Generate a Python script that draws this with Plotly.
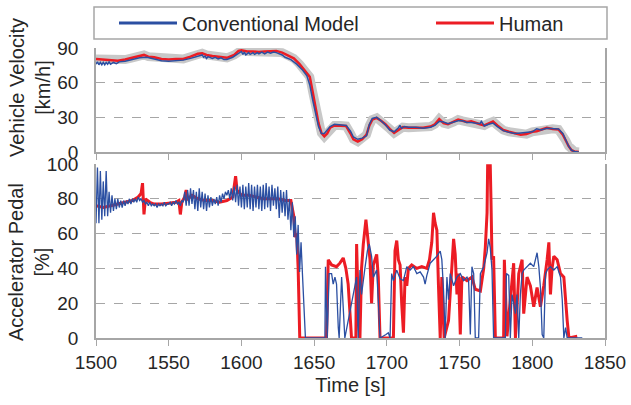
import plotly.graph_objects as go
from plotly.subplots import make_subplots

# ---------------- data ----------------
t_vel_human = [1500,1505,1510,1515,1520,1525,1530,1533,1536,1540,1545,1550,1555,1560,1565,1570,1573,1576,1580,1585,
               1590,1595,1598,1600,1604,1608,1612,1616,1620,1624,1628,1632,1636,1640,1644,1647,1649,1651,1653,1655,
               1657,1659,1661,1664,1668,1672,1675,1677,1680,1683,1686,1688,1690,1693,1696,1699,1702,1705,1708,1711,
               1715,1720,1725,1730,1733,1736,1739,1742,1746,1749,1752,1755,1758,1761,1764,1767,1770,1773,1776,1780,
               1784,1788,1792,1796,1800,1803,1806,1810,1814,1818,1821,1823,1825,1827,1829,1832]
vel_human = [80.5,80,79.5,79,80,81.5,83,84,82.5,82,80.5,80,80.5,80.5,82.5,85,85.5,84,83,82,
             81.5,84,87.5,88,87,87,86.5,87,87.5,87.5,86,83.5,81,76,70,65,52,37,25,16.5,
             13.5,16,21,23,23,22.5,16,11,9,11,15,23,28,29.5,27,24,20,16.5,19,21.5,
             21,21,21,22,24,28.5,25,24,26,28,27,26,26.5,25,24,23,25,26.5,23,19,
             17.5,16.5,15,15.5,17.5,18,19.5,21,20,19.5,15,10,5,1.5,0.5,0]

t_vel_model = [1500,1501,1502,1503,1504,1505,1506,1507,1508,1509,1510,1512,1514,1516,1520,1525,1530,1535,1540,1545,
               1550,1555,1560,1565,1570,1573,1574,1575,1576,1577,1580,1582,1584,1586,1588,1590,1594,1598,1600,1601,
               1602,1603,1605,1606,1608,1609,1611,1612,1614,1616,1618,1620,1622,1624,1626,1628,1630,1634,1638,1642,
               1645,1647,1649,1651,1653,1655,1657,1659,1661,1664,1668,1672,1675,1677,1680,1683,1686,1688,1690,1693,
               1696,1699,1702,1705,1708,1709,1710,1712,1715,1720,1725,1730,1733,1736,1739,1742,1746,1749,1752,1755,
               1758,1761,1764,1765,1767,1770,1773,1776,1780,1784,1788,1792,1796,1800,1803,1806,1810,1814,1818,1821,
               1823,1825,1827,1829,1832]
vel_model = [76,78,75.5,77.5,75.5,77.5,75.5,77.5,76,78,76,77.5,76.5,78,78.5,80,81.5,82,80.5,79,
             78.5,79,79.5,81,83,84,82,83,81,82.5,81,82,80.5,81.5,80,80,82,85.5,87,84.5,
             86.5,84,86,84.5,86,84.5,86,85,86.5,85,86.5,85.5,86.5,86,85,84,82,80,76,71,
             66,58,45,32,22,16,16,19,22,24,23.5,23,18,13,11,12,14,24,29,30,
             27,23.5,19,17.5,21,23,20.5,22,21.5,21.5,20.5,21.5,23,26.5,26,24.5,26,27,27,25.5,
             25.5,25,24.5,26.5,22.5,24,25,22,18.5,17,16,16.5,17,17.5,20,19,20.5,20.5,20,16,
             11,5,1.5,0.5,0]

t_ped_human = [1500,1505,1510,1515,1520,1525,1529,1531,1532,1533,1534,1537,1540,1545,1550,1555,1557,1558,1559,1561,
               1562,1563,1566,1570,1575,1580,1585,1590,1594,1595,1596,1597,1600,1605,1610,1615,1620,1625,1630,1634,
               1636,1637,1638,1639,1640.1,1658.5,1659.7,1662,1665.4,1667.7,1670,1671.8,1673.4,1675.7,1678.7,1679.2,1680.6,1681.5,1682.6,1683.8,
               1685.6,1686.7,1688.4,1689.5,1690.7,1693,1694.1,1695.3,1704.5,1705.6,1706.8,1707.9,1709.1,1710.2,1711.4,1712.5,1713.7,1714.8,1717.1,1720.6,
               1724,1727.5,1729.3,1730.9,1732.1,1733.2,1734.4,1735.5,1736.7,1737.8,1739.4,1742.4,1744.7,1745.9,1747,1748.2,1749.3,1750.5,1751.6,1755.1,
               1758.5,1760.8,1764.3,1766.6,1767.7,1768.9,1769.3,1771.1,1771.6,1772.3,1773.4,1774.6,1780.3,1780.8,1782.6,1784.9,1787.2,1788.4,1790.7,1793,
               1794.1,1796.4,1798.7,1801,1803.3,1805.6,1807.9,1810.2,1811.4,1812.5,1813.6,1814.8,1817.1,1819.4,1821.7,1824,1825.2,1830.9]
ped_human = [76,75,76,77,78,79,81,83,89,71,80,78,77,77,77.5,78,79,71,78,81,
             85,80,82,80,79,79,78,79,81,88,93,85,82,82,81,80,80,80,79,79,
             70,58,60,40,0,0,45,42,41,43,46,40,31,0,0,54,10,0,40,54,
             68,60,45,20,42,48,35,0,0,50,56,45,42,20,3,35,30,40,42,40,
             41,40,45,55,72,66,62,30,0,35,0,10,40,57,48,25,37,2,35,33,
             35,28,27,40,52,72,99,99,79,45,47,0,0,45,1,20,43,0,37,45,
             14,35,30,18,29,18,30,45,55,25,40,47,45,37,35,10,0,1]

t_ped_model = list(range(1500, 1645)) + [
               1657.4,1657.8,1659,1660.3,1662,1663.1,1664.3,1665.4,1666.6,1667.2,1668.9,1671.1,1679.2,1680.3,1681.5,1682.6,1684.9,1686.6,1687.9,1689.5,
               1690.7,1693,1694.1,1695.3,1699.4,1701,1702.2,1703.3,1704.5,1706.8,1709.1,1711.4,1713.7,1716,1718.3,1720.6,1722.9,1725.2,1726.3,1727.5,
               1729.8,1732.1,1734.4,1736.7,1737.8,1739,1740.1,1741.3,1742.4,1743.6,1745.9,1748.2,1750.5,1752.8,1755.1,1756.2,1757.4,1758.5,1759.7,1760.8,
               1763.1,1764.3,1766.6,1768.9,1770,1771.1,1772.3,1773.4,1781.5,1782.2,1783.8,1784.9,1786.1,1787.2,1788.4,1789.5,1790.7,1791.8,1793,1794.1,
               1796.4,1798.7,1801,1803.3,1804.5,1805.6,1806.8,1807.9,1809.1,1810.2,1812.5,1814.8,1817.1,1819.4,1820.6,1821.7,1822.9,1824,1834.4]
ped_model = [66,98,66,96,68,90,70,96,70,84,72,82,73,80,74,80,75,79,75,79,
             76,79,77,80,77,80,78,80,78,81,79,80,78,79,77,78,76,78,76,77,
             76,77,75,77,76,77,76,78,76,77,77,78,76,78,77,79,77,78,76,79,
             78,84,76,85,76,86,77,85,74,84,73,86,75,84,74,83,73,82,75,81,
             76,80,77,81,76,82,78,83,80,84,82,85,80,86,79,87,78,88,76,87,
             75,88,74,87,75,89,74,88,73,87,75,88,74,87,73,88,74,89,75,87,
             73,88,76,86,74,87,69,85,72,84,70,85,68,80,62,78,58,70,48,65,
             38,55,36,18,0] + [
             0,41,0,37,37,31,35,31,6,0,35,0,35,0,39,25,40,50,54,47,
             35,39,22,0,2,3,0,37,33,39,34,33,41,39,41,37,38,35,31,36,
             43,45,47,50,45,27,0,35,22,37,30,35,37,33,35,33,2,41,37,0,
             0,37,41,49,57,52,39,0,0,37,36,0,25,20,14,25,0,25,37,39,
             41,43,41,49,41,29,2,0,37,39,41,39,41,35,22,0,6,0,0]

x_ticks = [1500, 1550, 1600, 1650, 1700, 1750, 1800, 1850]
vel_ticks = [0, 30, 60, 90]
ped_ticks = [0, 20, 40, 60, 80, 100]

# ---------------- style ----------------
BLUE = "#2b4fa2"
RED = "#ec1c24"
GRAY_BAND = "#c8c8c8"
AXIS = "#a6a6a6"
GRID = "#a6a6a6"
FONT = "Liberation Sans, Arial, sans-serif"
TXT = "#262626"
FS = 20
TFS = 19

W, H = 631, 405
L, R = 96, 605
TOP, BOT = 48, 338
ph = BOT - TOP
pw = R - L
def py(px):
    return (BOT - px) / ph
def pxp(px):
    return (px - L) / pw

fig = make_subplots(rows=2, cols=1, shared_xaxes=False, vertical_spacing=0.05)

# velocity
fig.add_trace(go.Scatter(x=t_vel_human, y=vel_human, mode="lines", showlegend=False,
                         line=dict(color=GRAY_BAND, width=9), hoverinfo="skip"), row=1, col=1)
fig.add_trace(go.Scatter(x=t_vel_human, y=vel_human, mode="lines", name="Human", showlegend=False,
                         line=dict(color=RED, width=2.5)), row=1, col=1)
fig.add_trace(go.Scatter(x=t_vel_model, y=vel_model, mode="lines", name="Conventional Model", showlegend=False,
                         line=dict(color=BLUE, width=1.5)), row=1, col=1)

# pedal
fig.add_trace(go.Scatter(x=t_ped_human, y=ped_human, mode="lines", name="Human", showlegend=False,
                         line=dict(color=RED, width=3)), row=2, col=1)
fig.add_trace(go.Scatter(x=t_ped_model, y=ped_model, mode="lines", name="Conventional Model", showlegend=False,
                         line=dict(color=BLUE, width=1.3)), row=2, col=1)

# legend entries (two legends so each entry sits where the reference puts it)
fig.add_trace(go.Scatter(x=[None], y=[None], mode="lines", name="Conventional Model", legend="legend",
                         line=dict(color=BLUE, width=3)), row=1, col=1)
fig.add_trace(go.Scatter(x=[None], y=[None], mode="lines", name="Human", legend="legend2",
                         line=dict(color=RED, width=3)), row=1, col=1)

leg_common = dict(orientation="h", xanchor="left", y=py(23), yanchor="middle",
                  font=dict(size=FS, color=TXT), bgcolor="rgba(0,0,0,0)", borderwidth=0,
                  itemwidth=58)
fig.update_layout(
    width=W, height=H,
    margin=dict(l=L, r=W - R, t=TOP, b=H - BOT, autoexpand=False),
    paper_bgcolor="white", plot_bgcolor="white",
    font=dict(family=FONT, size=FS, color=TXT),
    legend=dict(x=pxp(114), **leg_common),
    legend2=dict(x=pxp(431), **leg_common),
    shapes=[dict(type="rect", xref="paper", yref="paper", x0=pxp(94), x1=pxp(607), y0=py(39), y1=py(7),
                 line=dict(color=AXIS, width=1.5), fillcolor="rgba(0,0,0,0)")],
    annotations=[
        dict(text="Vehicle Velocity<br>[km/h]", textangle=-90, xref="paper", yref="paper",
             x=pxp(30), y=py(88), xanchor="center", yanchor="middle", showarrow=False,
             font=dict(size=FS, color=TXT)),
        dict(text="Accelerator Pedal<br>[%]", textangle=-90, xref="paper", yref="paper",
             x=pxp(29), y=py(262), xanchor="center", yanchor="middle", showarrow=False,
             font=dict(size=FS, color=TXT)),
    ],
)

xcommon = dict(range=[1500, 1850], tickvals=x_ticks, showline=True, linecolor=AXIS, linewidth=1.5,
               ticks="outside", ticklen=6, tickcolor=AXIS, showgrid=False, zeroline=False, mirror=False,
               automargin=False)
fig.update_xaxes(**xcommon, showticklabels=False, row=1, col=1)
fig.update_xaxes(**xcommon, showticklabels=True, tickfont=dict(size=TFS), ticklabeloverflow="allow",
                 title=dict(text="Time [s]", font=dict(size=FS), standoff=6), row=2, col=1)

ycommon = dict(showline=True, linecolor=AXIS, linewidth=1.5, mirror=True, ticks="",
               showgrid=True, gridcolor=GRID, griddash="dash", gridwidth=1, zeroline=False,
               tickfont=dict(size=TFS), ticklabelstandoff=12, automargin=False, ticklabeloverflow="allow")
fig.update_yaxes(**ycommon, range=[0, 90], tickvals=vel_ticks, domain=[py(152), 1], row=1, col=1)
fig.update_yaxes(**ycommon, range=[0, 100], tickvals=ped_ticks, domain=[0, py(164)], row=2, col=1)

fig.write_html("out.html", config={"displayModeBar": False},
               post_script="document.body.style.margin='0';document.body.style.overflow='hidden';")
